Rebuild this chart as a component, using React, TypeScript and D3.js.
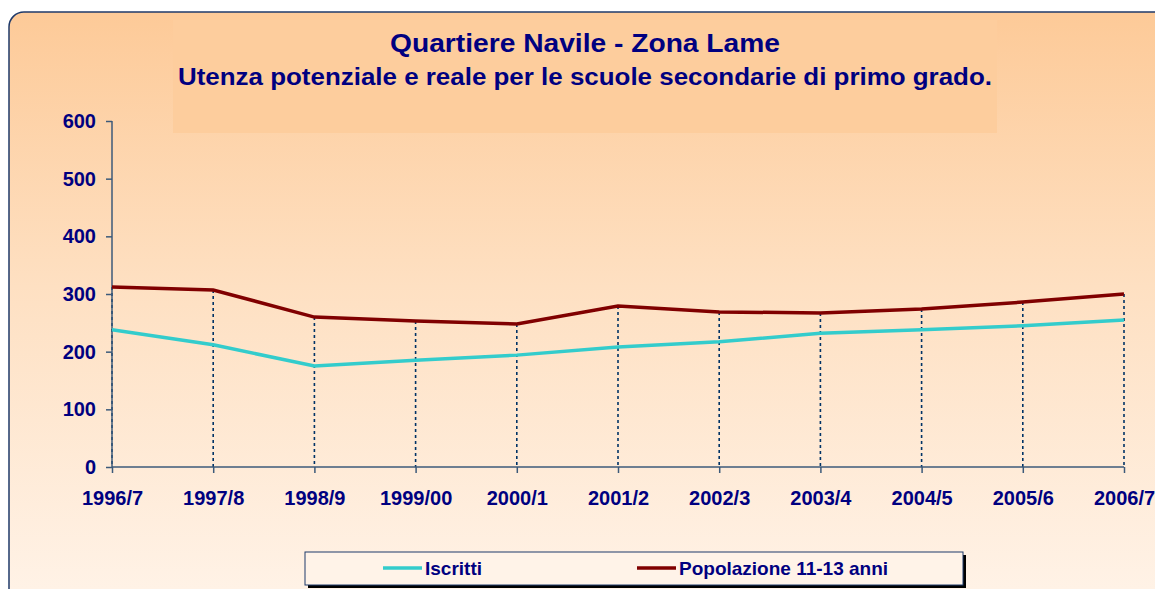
import { useEffect, useRef } from "react"
import * as d3 from "d3"

const years = ["1996/7", "1997/8", "1998/9", "1999/00", "2000/1", "2001/2", "2002/3", "2003/4", "2004/5", "2005/6", "2006/7"]
const iscritti = [238, 212, 175, 185, 194, 208, 217, 232, 238, 245, 255]
const popolazione = [312, 307, 260, 253, 248, 279, 269, 267, 274, 286, 300]
const yTicks = [0, 100, 200, 300, 400, 500, 600]

const W = 1155
const H = 589
const FONT = "'Liberation Sans', Arial, sans-serif"
const NAVY = "#000080"

export default function App() {
  const svgRef = useRef<SVGSVGElement>(null)

  useEffect(() => {
    if (!svgRef.current) return
    const svg = d3.select(svgRef.current)
    svg.selectAll("*").remove()

    const defs = svg.append("defs")
    const grad = defs
      .append("linearGradient")
      .attr("id", "bg")
      .attr("x1", 0)
      .attr("y1", 0)
      .attr("x2", 0)
      .attr("y2", 1)
    grad.append("stop").attr("offset", "0%").attr("stop-color", "#fdca98")
    grad.append("stop").attr("offset", "45%").attr("stop-color", "#fee0c2")
    grad.append("stop").attr("offset", "100%").attr("stop-color", "#fff4ea")

    // page background + chart area
    svg.append("rect").attr("width", W).attr("height", H).attr("fill", "#ffffff")
    svg
      .append("rect")
      .attr("x", 9)
      .attr("y", 12)
      .attr("width", 1180)
      .attr("height", 610)
      .attr("rx", 15)
      .attr("fill", "url(#bg)")
      .attr("stroke", "#1f3a6a")
      .attr("stroke-width", 1.5)

    // title box
    svg
      .append("rect")
      .attr("x", 173)
      .attr("y", 20)
      .attr("width", 824)
      .attr("height", 113)
      .attr("fill", "#fdcd9d")

    svg
      .append("text")
      .attr("x", 390)
      .attr("y", 52)
      .attr("font-family", FONT)
      .attr("font-weight", "bold")
      .attr("font-size", 26)
      .attr("fill", NAVY)
      .attr("textLength", 390)
      .attr("lengthAdjust", "spacingAndGlyphs")
      .text("Quartiere Navile - Zona Lame")
    svg
      .append("text")
      .attr("x", 178)
      .attr("y", 85)
      .attr("font-family", FONT)
      .attr("font-weight", "bold")
      .attr("font-size", 23)
      .attr("fill", NAVY)
      .attr("textLength", 814)
      .attr("lengthAdjust", "spacingAndGlyphs")
      .text("Utenza potenziale e reale per le scuole secondarie di primo grado.")

    const x = d3.scalePoint().domain(years).range([112, 1124])
    const y = d3.scaleLinear().domain([0, 600]).range([467, 121])

    const g = svg.append("g")

    // drop lines
    g.selectAll("line.drop")
      .data(years)
      .enter()
      .append("line")
      .attr("class", "drop")
      .attr("x1", (d) => x(d)!)
      .attr("x2", (d) => x(d)!)
      .attr("y1", (d, i) => y(Math.max(iscritti[i], popolazione[i])))
      .attr("y2", y(0))
      .attr("stroke", "#003366")
      .attr("stroke-width", 1.6)
      .attr("stroke-dasharray", "3,3")

    // axes
    const axisColor = "#3c5a7a"
    const yAxis = g.append("g").attr("transform", "translate(112,0)").call(d3.axisLeft(y).tickValues(yTicks).tickSize(6).tickPadding(10))
    const xAxis = g.append("g").attr("transform", `translate(0,${y(0)})`).call(d3.axisBottom(x).tickSize(6).tickPadding(18))
    ;[yAxis, xAxis].forEach((a) => {
      a.select(".domain").attr("stroke", axisColor).attr("stroke-width", 1.5)
      a.selectAll(".tick line").attr("stroke", axisColor).attr("stroke-width", 1.5)
      a.selectAll(".tick text")
        .attr("fill", NAVY)
        .attr("font-family", FONT)
        .attr("font-weight", "bold")
        .attr("font-size", 20)
    })
    xAxis.select(".domain").attr("d", `M112,0H1124`)
    yAxis.select(".domain").attr("d", `M0,${y(600)}V${y(0)}`)

    const line = d3
      .line<number>()
      .x((d, i) => x(years[i])!)
      .y((d) => y(d))

    g.append("path").datum(iscritti).attr("d", line).attr("fill", "none").attr("stroke", "#33cccc").attr("stroke-width", 3.5)
    g.append("path").datum(popolazione).attr("d", line).attr("fill", "none").attr("stroke", "#800000").attr("stroke-width", 3.5)

    // legend
    const lg = svg.append("g")
    lg.append("rect").attr("x", 308).attr("y", 555).attr("width", 658).attr("height", 33).attr("fill", "#000")
    lg.append("rect")
      .attr("x", 305)
      .attr("y", 552)
      .attr("width", 658)
      .attr("height", 33)
      .attr("fill", "#fff3e8")
      .attr("stroke", "#1f3a6a")
      .attr("stroke-width", 1)
    const items = [
      { name: "Iscritti", color: "#33cccc", x: 383 },
      { name: "Popolazione 11-13 anni", color: "#800000", x: 637 },
    ]
    items.forEach((it) => {
      lg.append("line")
        .attr("x1", it.x)
        .attr("x2", it.x + 39)
        .attr("y1", 568)
        .attr("y2", 568)
        .attr("stroke", it.color)
        .attr("stroke-width", 3.5)
      lg.append("text")
        .attr("x", it.x + 42)
        .attr("y", 575)
        .attr("font-family", FONT)
        .attr("font-weight", "bold")
        .attr("font-size", 19)
        .attr("fill", NAVY)
        .text(it.name)
    })
  }, [])

  return (
    <svg
      ref={svgRef}
      width={W}
      height={H}
      style={{ position: "absolute", left: 0, top: 0, display: "block" }}
    />
  )
}
